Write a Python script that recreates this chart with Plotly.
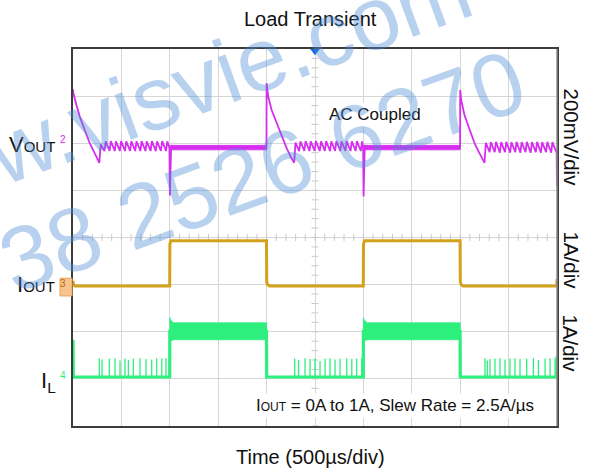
import plotly.graph_objects as go

FONT = "Liberation Sans, Arial, sans-serif"

# ---------------- scope settings ----------------
T_DIV_US = 500          # 500 µs/div
N_XDIV = 10
N_YDIV = 8
VOUT_RANGE_MV = [-1200, 400]   # 200 mV/div, channel 2 ground 2 div below top
IOUT_RANGE_A = [-3, 5]         # 1 A/div, channel 3 ground 5 div below top
IL_RANGE_A = [-1.03, 6.97]     # 1 A/div, channel 4 ground ~7 div below top

# ---------------- VOUT (AC coupled), µs / mV ----------------
vout_t = [0, 4, 35, 70, 121, 173, 225, 272, 286,
          325, 338, 378, 391, 431, 444, 484, 497, 537, 550, 590, 603, 643, 656,
          696, 709, 749, 762, 802, 815, 855, 868, 908, 921, 961, 974, 996,
          1001, 1008, 1014, 1024, 1999,
          2000, 2017, 2052, 2103, 2155, 2207, 2258, 2285, 2298,
          2337, 2350, 2390, 2403, 2443, 2456, 2496, 2509, 2549, 2562, 2602, 2615,
          2655, 2668, 2708, 2721, 2761, 2774, 2814, 2827, 2867, 2880, 2920, 2933,
          2973, 2986, 2997,
          3002, 3008, 3014, 3024, 3999,
          4000, 4010, 4044, 4096, 4148, 4200, 4251, 4265,
          4304, 4317, 4357, 4370, 4410, 4423, 4463, 4476, 4516, 4529, 4569, 4582,
          4622, 4635, 4675, 4688, 4728, 4741, 4781, 4794, 4834, 4847, 4887, 4900,
          4940, 4953, 4993, 4996, 5000]
vout_mv = [229, 212, 162, 113, 56, 0, -43, -83, -5,
           -33, 8, -32, 9, -33, 8, -32, 9, -33, 8, -32, 9, -33, 8,
           -32, 9, -33, 8, -32, 9, -33, 8, -32, 9, -33, 8, -20,
           -222, -60, -8, -16, -18,
           255, 198, 141, 85, 28, -21, -64, -83, 3,
           -33, 8, -32, 9, -33, 8, -32, 9, -33, 8, -32, 9,
           -33, 8, -32, 9, -33, 8, -32, 9, -33, 8, -32, 9,
           -33, 8, -15,
           -226, -60, -8, -16, -18,
           226, 184, 120, 56, 0, -43, -83, 2,
           -38, 5, -38, 6, -40, 5, -38, 6, -40, 5, -38, 6,
           -40, 5, -38, 6, -40, 5, -38, 6, -40, 5, -38, 6,
           -40, 5, -38, -30, -184]
# noise envelope of VOUT during the 1 A load
vout_band_start = [1012, 3012]
vout_band_end = [1999, 3999]
vout_band_hi = [-9, -9]
vout_band_lo = [-28, -28]

# ---------------- IOUT, µs / A ----------------
iout_t = [0, 6, 20, 999, 1001, 1012, 1999, 2001, 2010, 2030,
          2999, 3001, 3012, 3999, 4001, 4010, 4030, 4998, 5000]
iout_a = [0.08, 0.0, -0.03, -0.03, 0.86, 0.93, 0.93, 0.06, 0.0, -0.03,
          -0.03, 0.86, 0.93, 0.93, 0.06, 0.0, -0.03, -0.03, 0.12]

# ---------------- IL, µs / A ----------------
il_t = [0, 3, 999, 1000, 1999, 2001, 2999, 3000, 3999, 4001, 4998, 5000]
il_a = [0.80, 0.01, 0.01, 0.98, 0.98, 0.01, 0.01, 0.98, 0.98, 0.01, 0.01, 0.45]
# switching ripple envelope at 1 A load
il_band_t = [0, 8, 40, 1000]            # relative to load step
il_band_hi = [1.27, 1.22, 1.16, 1.16]
il_band_lo = [0.76, 0.78, 0.80, 0.80]
il_band_steps = [1000, 3000]
# PFM bursts at no load
il_burst_t = [272, 300, 375, 434, 486, 537, 572, 623, 692, 754, 813, 865, 917, 961,
              2290, 2330, 2397, 2449, 2500, 2552, 2604, 2655, 2707, 2759, 2828, 2880, 2931, 2983,
              4256, 4280, 4308, 4359, 4411, 4463, 4514, 4566, 4618, 4687, 4756, 4808, 4877, 4928, 4980]
il_burst_a = [0.41, 0.38, 0.40, 0.41, 0.36, 0.40, 0.37, 0.40, 0.41, 0.39, 0.38, 0.41, 0.40, 0.41,
              0.40, 0.37, 0.41, 0.39, 0.40, 0.35, 0.40, 0.41, 0.38, 0.40, 0.41, 0.39, 0.40, 0.41,
              0.41, 0.36, 0.39, 0.40, 0.41, 0.38, 0.40, 0.41, 0.39, 0.40, 0.41, 0.37, 0.40, 0.41, 0.40]

C_V = "#D62EEF"
C_IO = "#D4A11B"
C_IL = "#2DEF7D"
GRID = "#D6D6D6"

fig = go.Figure()

# ---- center-line minor ticks (graticule) ----
mt_x = [i * T_DIV_US / 5 for i in range(N_XDIV * 5 + 1)]
fig.add_trace(go.Scatter(x=mt_x, y=[N_YDIV / 2] * len(mt_x), mode="markers",
                         marker=dict(symbol="line-ns", size=5, line=dict(width=1, color="#CACACA")),
                         hoverinfo="skip", showlegend=False, yaxis="y"))
mt_y = [i / 5 for i in range(N_YDIV * 5 + 1)]
fig.add_trace(go.Scatter(x=[T_DIV_US * N_XDIV / 2] * len(mt_y), y=mt_y, mode="markers",
                         marker=dict(symbol="line-ew", size=5, line=dict(width=1, color="#CACACA")),
                         hoverinfo="skip", showlegend=False, yaxis="y"))
# trigger position marker
fig.add_trace(go.Scatter(x=[T_DIV_US * N_XDIV / 2], y=[N_YDIV - 0.035], mode="markers",
                         marker=dict(symbol="triangle-down", size=9, color="#1668E3"),
                         cliponaxis=False, hoverinfo="skip", showlegend=False, yaxis="y"))

# ---- VOUT ----
for s, e, hi, lo in zip(vout_band_start, vout_band_end, vout_band_hi, vout_band_lo):
    fig.add_trace(go.Scatter(x=[s, e, e, s, s], y=[hi, hi, lo, lo, hi], mode="lines",
                             fill="toself", fillcolor=C_V, line=dict(color=C_V, width=0.8),
                             hoverinfo="skip", showlegend=False, yaxis="y2"))
fig.add_trace(go.Scatter(x=vout_t, y=vout_mv, mode="lines", line=dict(color=C_V, width=1.8),
                         showlegend=False, yaxis="y2"))
fig.add_trace(go.Scatter(x=[-31], y=[0], mode="markers",
                         marker=dict(symbol="triangle-right", size=6, color=C_V),
                         cliponaxis=False, hoverinfo="skip", showlegend=False, yaxis="y2"))

# ---- IOUT ----
fig.add_trace(go.Scatter(x=iout_t, y=iout_a, mode="lines", line=dict(color=C_IO, width=3),
                         showlegend=False, yaxis="y3"))

# ---- IL ----
for st in il_band_steps:
    bx = [st + d for d in il_band_t]
    fig.add_trace(go.Scatter(x=bx + bx[::-1] + [bx[0]], y=il_band_hi + il_band_lo[::-1] + [il_band_hi[0]],
                             mode="lines", fill="toself", fillcolor=C_IL,
                             line=dict(color=C_IL, width=0.8),
                             hoverinfo="skip", showlegend=False, yaxis="y4"))
bx, by = [], []
for t, a in zip(il_burst_t, il_burst_a):
    bx += [t, t, None]
    by += [0, a, None]
fig.add_trace(go.Scatter(x=bx, y=by, mode="lines", line=dict(color=C_IL, width=1.3),
                         hoverinfo="skip", showlegend=False, yaxis="y4"))
fig.add_trace(go.Scatter(x=il_t, y=il_a, mode="lines", line=dict(color=C_IL, width=3.2),
                         showlegend=False, yaxis="y4"))
fig.add_trace(go.Scatter(x=[-31], y=[0], mode="markers",
                         marker=dict(symbol="triangle-right", size=6, color=C_IL),
                         cliponaxis=False, hoverinfo="skip", showlegend=False, yaxis="y4"))

axis_common = dict(showgrid=True, gridcolor=GRID, gridwidth=1.3, zeroline=False,
                   showticklabels=False, ticks="", showline=True, mirror=True,
                   linecolor="#3c3c3c", linewidth=1.5)
hidden = dict(visible=False, showgrid=False, zeroline=False, fixedrange=True)

fig.update_layout(
    width=597, height=473, autosize=False,
    margin=dict(l=73, r=40, t=49, b=47),
    paper_bgcolor="white", plot_bgcolor="white",
    font=dict(family=FONT, color="#111111"),
    showlegend=False,
    xaxis=dict(range=[0, T_DIV_US * N_XDIV], dtick=T_DIV_US, tick0=0, **axis_common),
    yaxis=dict(range=[0, N_YDIV], dtick=1, tick0=0, **axis_common),
    yaxis2=dict(range=VOUT_RANGE_MV, overlaying="y", **hidden),
    yaxis3=dict(range=IOUT_RANGE_A, overlaying="y", **hidden),
    yaxis4=dict(range=IL_RANGE_A, overlaying="y", **hidden),
)

# right border drawn lighter as in the scope capture
fig.add_shape(type="line", xref="paper", yref="paper", x0=1, x1=1, y0=0, y1=1,
              line=dict(color="#8c8c8c", width=1.5))
# channel 3 badge (left of the graticule, at the IOUT ground level)
fig.add_shape(type="rect", xref="paper", yref="paper", x0=-0.0269, x1=-0.002, y0=0.345, y1=0.392,
              fillcolor="#F6C48C", line=dict(color="#E8A45C", width=1), layer="above")

C = dict(xanchor="center", yanchor="middle", xref="paper", yref="paper", showarrow=False)
ann = []
ann.append(dict(text="Load Transient", x=0.4906, y=1.0796, font=dict(size=20), **C))
ann.append(dict(text="Time (500µs/div)", x=0.4911, y=-0.0822, font=dict(size=20), **C))
ann.append(dict(text="AC Coupled", x=0.6248, y=0.825, font=dict(size=17),
                bgcolor="white", borderpad=2, **C))
ann.append(dict(text="I<span style='font-size:12px'>OUT</span> = 0A to 1A, Slew Rate = 2.5A/µs",
                x=0.6653, y=0.0536, font=dict(size=17), bgcolor="white", borderpad=2, **C))
for txt, yy in [("200mV/div", 0.765), ("1A/div", 0.439), ("1A/div", 0.219)]:
    ann.append(dict(text=txt, x=1.029, y=yy, textangle=90, font=dict(size=20.5), **C))
R = dict(C, xanchor="right")
ann.append(dict(text="V<span style='font-size:15px'>OUT</span>", x=-0.033, y=0.7467,
                font=dict(size=22), **R))
ann.append(dict(text="I<span style='font-size:15px'>OUT</span>", x=-0.033, y=0.376,
                font=dict(size=22), **R))
ann.append(dict(text="I<sub>L</sub>", x=-0.031, y=0.118, font=dict(size=22), **R))
# channel numbers
ann.append(dict(text="2", x=-0.0207, y=0.7599, font=dict(size=10, color=C_V), **C))
ann.append(dict(text="3", x=-0.0207, y=0.378, font=dict(size=10, color="#B86A14"), **C))
ann.append(dict(text="4", x=-0.0207, y=0.135, font=dict(size=10, color=C_IL), **C))
# watermark
ann.append(dict(text="www.visvie.com", x=0.197, y=0.884, textangle=-20,
                font=dict(size=90, color="rgba(74,141,214,0.40)"), **C))
ann.append(dict(text="38 2526 6270", x=0.3915, y=0.676, textangle=-20,
                font=dict(size=90, color="rgba(74,141,214,0.40)"), **C))
fig.update_layout(annotations=ann)

fig.write_html("out.html")
